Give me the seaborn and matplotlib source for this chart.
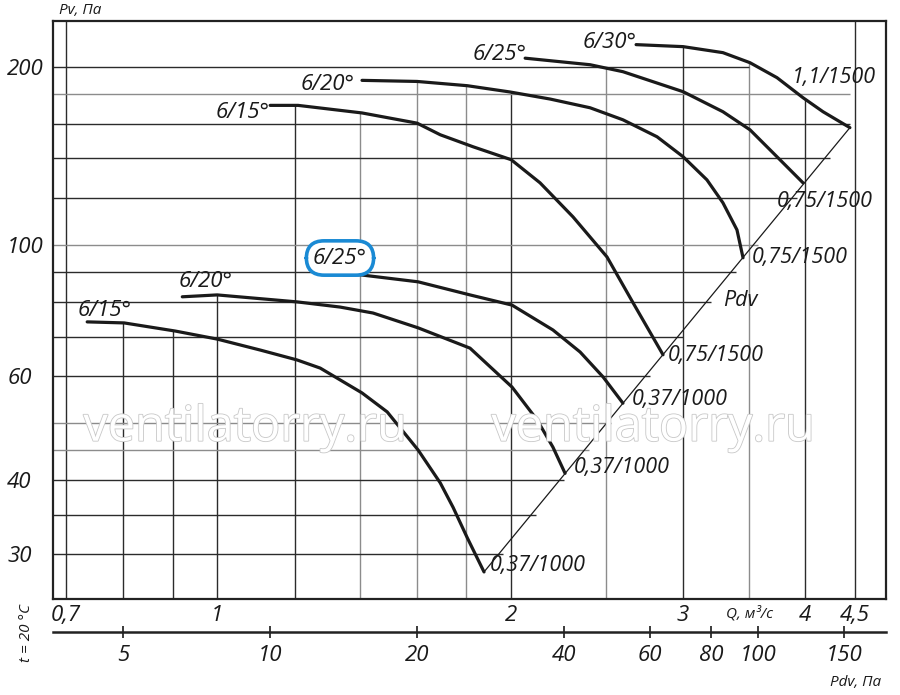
import matplotlib
matplotlib.use("Agg")
import matplotlib.pyplot as plt
import matplotlib.patheffects as pe
from matplotlib.ticker import NullLocator
import numpy as np
import pandas as pd
import seaborn as sns

# fan curves: Q (m3/s) and Pv (Pa)
q_15_1000 = [0.736, 0.803, 0.906, 1.0, 1.107, 1.207, 1.275, 1.407, 1.493, 1.606, 1.692, 1.744, 1.803, 1.876]
pv_15_1000 = [74.1, 73.8, 71.5, 69.3, 66.4, 63.9, 61.9, 56.2, 52.2, 45.0, 39.6, 36.0, 32.0, 28.0]

q_20_1000 = [0.921, 1.0, 1.207, 1.336, 1.444, 1.606, 1.815, 2.004, 2.126, 2.207, 2.271]
pv_20_1000 = [81.7, 82.3, 80.1, 78.5, 76.7, 72.4, 66.9, 57.5, 50.6, 45.5, 41.1]

q_25_1000 = [1.346, 1.401, 1.606, 1.815, 2.004, 2.207, 2.353, 2.484, 2.603]
pv_25_1000 = [89.0, 89.0, 86.6, 82.3, 79.1, 71.8, 65.9, 59.8, 54.0]

q_15_1500 = [1.133, 1.210, 1.407, 1.602, 1.692, 1.828, 2.000, 2.141, 2.314, 2.507, 2.666, 2.861]
pv_15_1500 = [172.1, 172.1, 167.1, 160.6, 153.5, 146.5, 139.3, 127.3, 111.5, 95.4, 79.8, 65.2]

q_20_1500 = [1.407, 1.602, 1.803, 1.995, 2.192, 2.409, 2.603, 2.821, 3.0, 3.173, 3.295, 3.406, 3.455]
pv_20_1500 = [189.7, 188.9, 185.8, 181.3, 176.4, 170.5, 162.7, 152.3, 140.9, 128.8, 117.8, 106.0, 95.1]

q_25_1500 = [2.067, 2.409, 2.603, 3.0, 3.295, 3.512, 3.743, 3.980]
pv_25_1500 = [206.8, 201.6, 196.2, 181.5, 167.9, 156.5, 140.9, 127.3]

q_30_1500 = [2.685, 3.0, 3.295, 3.512, 3.743, 3.980, 4.172, 4.445]
pv_30_1500 = [218.0, 216.3, 211.3, 203.2, 191.7, 177.3, 167.9, 157.8]

curves = [
    ("6/15 1000", q_15_1000, pv_15_1000),
    ("6/20 1000", q_20_1000, pv_20_1000),
    ("6/25 1000", q_25_1000, pv_25_1000),
    ("6/15 1500", q_15_1500, pv_15_1500),
    ("6/20 1500", q_20_1500, pv_20_1500),
    ("6/25 1500", q_25_1500, pv_25_1500),
    ("6/30 1500", q_30_1500, pv_30_1500),
]
df = pd.concat([pd.DataFrame({"curve": n, "Q": q, "Pv": p}) for n, q, p in curves])

# dynamic pressure line Pdv = k * Q^2
k_pdv = 7.8
pdv_line_q = [1.876, 4.445]
pdv_line_pv = [28.0, 157.8]

x_grid = [0.7, 0.8, 0.9, 1.0, 1.2, 1.4, 1.6, 1.8, 2.0, 2.5, 3.0, 3.5, 4.0, 4.5]
x_grid_light = [1.4, 1.6, 1.8, 2.5, 3.5]
y_grid = [30, 35, 40, 45, 50, 60, 70, 80, 90, 100, 120, 140, 160, 180, 200]
y_grid_light = [45, 50, 100, 180]

x_ticks = [0.7, 1, 2, 3, 4, 4.5]
x_ticklabels = ["0,7", "1", "2", "3", "4", "4,5"]
y_ticks = [30, 40, 60, 100, 200]
y_ticklabels = ["30", "40", "60", "100", "200"]
pdv_ticks = [5, 10, 20, 40, 60, 80, 100, 150]
pdv_ticklabels = ["5", "10", "20", "40", "60", "80", "100", "150"]

sns.set_theme(style="white")
plt.rcParams["font.family"] = ["Open Sans", "DejaVu Sans"]
plt.rcParams["font.style"] = "italic"

W, H = 900, 695
fig = plt.figure(figsize=(W / 100, H / 100), dpi=100)
ax = fig.add_axes([53 / W, 96 / H, 833 / W, 578 / H])
ax.set_xscale("log")
ax.set_yscale("log")
xlim = (0.679, 4.84)
ylim = (25.2, 239)
ax.set_xlim(*xlim)
ax.set_ylim(*ylim)

dark, light = "#2b2b2b", "#8c8c8c"

# vertical grid lines run from the bottom up to the highest curve
for xv in x_grid:
    tops = [np.exp(np.interp(np.log(xv), np.log(q), np.log(p)))
            for _, q, p in curves if q[0] <= xv <= q[-1]]
    top = max(tops) if tops else ylim[1]
    ax.vlines(xv, ylim[0], top, color=light if xv in x_grid_light else dark,
              lw=1.0, zorder=1)

# horizontal grid lines stop at the Pdv line
for yv in y_grid:
    end = min(np.sqrt(yv / k_pdv), 4.45)
    if yv == 200:
        end = 3.5
    ax.hlines(yv, xlim[0], end, color=light if yv in y_grid_light else dark,
              lw=1.0, zorder=1)

# watermark
for wx in (245, 653):
    fig.text(wx / W, 1 - 428 / H, "ventilatorry.ru", fontsize=35, style="normal",
             color="white", ha="center", va="center", zorder=2,
             path_effects=[pe.Stroke(linewidth=1.2, foreground="#c8c8c8"), pe.Normal()])

sns.lineplot(x=pdv_line_q, y=pdv_line_pv, ax=ax, color="#1a1a1a", lw=0.9, zorder=3)
sns.lineplot(data=df, x="Q", y="Pv", units="curve", estimator=None, sort=False,
             ax=ax, color="#1a1a1a", lw=2.3, zorder=4,
             solid_joinstyle="round", solid_capstyle="round")

ax.set_xticks(x_ticks, x_ticklabels)
ax.set_yticks(y_ticks, y_ticklabels)
ax.xaxis.set_minor_locator(NullLocator())
ax.yaxis.set_minor_locator(NullLocator())
ax.tick_params(axis="both", length=0, labelsize=16, colors="#1a1a1a")
ax.tick_params(axis="x", pad=4)
ax.tick_params(axis="y", pad=33)
for lbl in ax.get_yticklabels():
    lbl.set_ha("left")
ax.set_xlabel("")
ax.set_ylabel("")
for s in ax.spines.values():
    s.set_color("#222222")
    s.set_linewidth(1.6)

sec = ax.secondary_xaxis(-0.057, functions=(lambda q: k_pdv * q ** 2,
                                            lambda p: np.sqrt(np.maximum(p, 1e-9) / k_pdv)))
sec.set_xticks(pdv_ticks, pdv_ticklabels)
sec.xaxis.set_minor_locator(NullLocator())
sec.tick_params(direction="inout", length=9, width=1.2, pad=5, labelsize=16, colors="#1a1a1a")
sec.spines["bottom"].set_linewidth(1.8)
sec.spines["bottom"].set_color("#222222")


def put(txt, px, py, size=16, ha="center", **kw):
    return fig.text(px / W, 1 - py / H, txt, fontsize=size, ha=ha, va="center",
                    color="#1a1a1a", zorder=6, **kw)


# blade angle labels at curve starts
put("6/15°", 105, 311)
put("6/20°", 206, 281)
put("6/25°", 340, 258,
    bbox=dict(boxstyle="round,pad=0.3,rounding_size=0.8", fc="white", ec="#1a8ad4", lw=2.6))
put("6/15°", 243, 112)
put("6/20°", 328, 84)
put("6/25°", 500, 55)
put("6/30°", 610, 43)

# motor labels at curve ends
put("0,37/1000", 490, 566, size=15.5, ha="left")
put("0,37/1000", 574, 468, size=15.5, ha="left")
put("0,37/1000", 632, 399, size=15.5, ha="left")
put("0,75/1500", 668, 355, size=15.5, ha="left")
put("0,75/1500", 752, 258, size=15.5, ha="left")
put("0,75/1500", 777, 202, size=15.5, ha="left")
put("1,1/1500", 792, 78, size=15.5, ha="left")
put("Pdv", 740, 301, size=15.5)

put("Pv, Па", 80, 11, size=11)
put("Q, м³/с", 749, 614, size=11)
put("Pdv, Па", 856, 683, size=11)
put("t = 20 °C", 27, 633, size=11, rotation=90)

fig.savefig("out.png", dpi=100)
